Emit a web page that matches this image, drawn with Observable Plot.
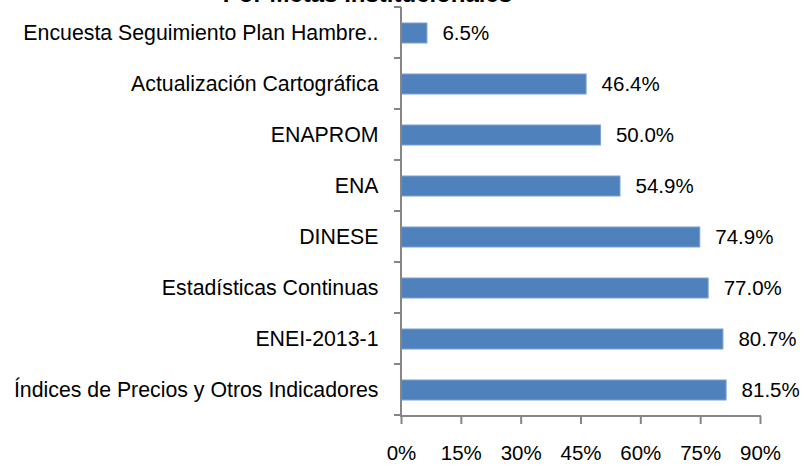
<!DOCTYPE html>
<html>
<head>
<meta charset="utf-8">
<script src="https://cdn.jsdelivr.net/npm/d3@7"></script>
<script src="https://cdn.jsdelivr.net/npm/@observablehq/plot@0.6"></script>
<style>
  body { margin: 0; background: #fff; }
  #wrap { position: relative; width: 805px; height: 470px; overflow: hidden; }
  #title { position: absolute; left: 0; width: 735px; text-align: center; top: -20px;
           font-family: "Liberation Sans Narrow", "Liberation Sans", Arial, sans-serif;
           font-weight: bold; font-size: 24px; color: #000; white-space: nowrap; }
</style>
</head>
<body>
<div id="wrap">
  <div id="chart"></div>
  <div id="title">Por Metas Institucionales</div>
</div>
<script>
const categories = [
  "Encuesta Seguimiento Plan Hambre..",
  "Actualización Cartográfica",
  "ENAPROM",
  "ENA",
  "DINESE",
  "Estadísticas Continuas",
  "ENEI-2013-1",
  "Índices de Precios y Otros Indicadores"
];
const values = [6.5, 46.4, 50.0, 54.9, 74.9, 77.0, 80.7, 81.5];
const xTicks = [0, 15, 30, 45, 60, 75, 90];

const data = categories.map((c, i) => ({cat: c, v: values[i] / 100}));
const axisColor = "#868686";
const font = "'Liberation Sans Narrow', 'Liberation Sans', Arial, sans-serif";

// boundary ticks on y axis and x axis line
function frameLines(index, scales, values, dim) {
  const y = scales.y, x = scales.x;
  const dom = y.domain();
  const step = y(dom[1]) - y(dom[0]);
  const top = dim.marginTop, bottom = dim.height - dim.marginBottom;
  const x0 = x(0), x1 = x(0.9);
  const g = d3.create("svg:g").attr("stroke", axisColor).attr("stroke-width", 2).attr("fill", "none");
  for (let i = 0; i <= dom.length; i++) {
    const yy = top + i * step;
    g.append("line").attr("x1", x0 - 7).attr("x2", x0).attr("y1", yy).attr("y2", yy);
  }
  g.append("line").attr("x1", x0).attr("x2", x0).attr("y1", top).attr("y2", bottom + 1);
  g.append("line").attr("x1", x0).attr("x2", x1 + 1).attr("y1", bottom).attr("y2", bottom);
  return g.node();
}

const chart = Plot.plot({
  width: 805,
  height: 470,
  marginLeft: 401,
  marginRight: 45,
  marginTop: 7,
  marginBottom: 54,
  style: {fontFamily: font, fontSize: "20px", color: "#000", background: "#fff"},
  x: {domain: [0, 0.9]},
  y: {domain: categories, padding: 0.6, paddingOuter: 0.3, align: 0.5},
  marks: [
    Plot.barX(data, {x: "v", y: "cat", fill: "#4f81bd", stroke: "#7aa0d0", strokeWidth: 1}),
    Plot.text(data, {x: "v", y: "cat", text: d => (d.v * 100).toFixed(1) + "%", textAnchor: "start", dx: 15, fontSize: 20.5, fill: "#000"}),
    Plot.axisY({tickSize: 0, tickPadding: 23, label: null, fontSize: 21.3}),
    Plot.axisX({ticks: xTicks.map(t => t / 100), tickFormat: d => Math.round(d * 100) + "%", tickSize: 8, tickPadding: 21, label: null, stroke: axisColor, strokeWidth: 2, fontSize: 20.5}),
    frameLines
  ]
});
document.getElementById("chart").appendChild(chart);
</script>
</body>
</html>
